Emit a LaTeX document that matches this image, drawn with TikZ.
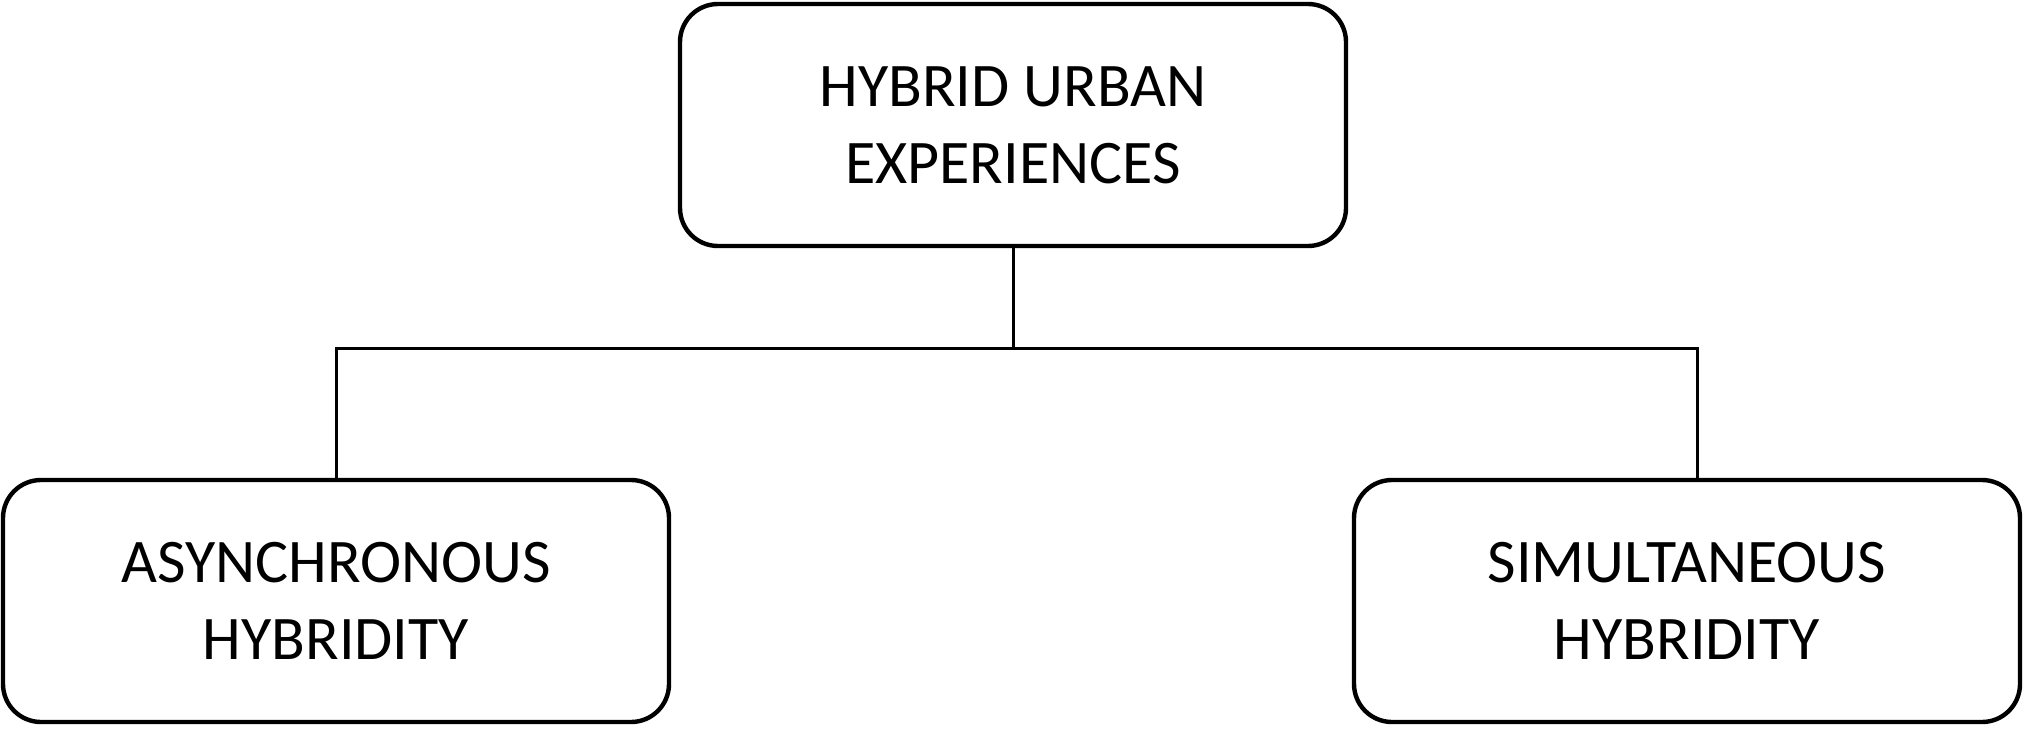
\documentclass[tikz,border=0pt]{standalone}
\usepackage{fontspec}
\setmainfont{Carlito}
\begin{document}
\begin{tikzpicture}[x=0.5pt,y=-0.5pt,
	box/.style={draw,line width=2.2pt,rounded corners=19pt,minimum width=333pt,
		minimum height=121pt,align=center,inner sep=0pt,
		font=\fontsize{31}{38.5}\selectfont},
	link/.style={line width=1.5pt}]
	\useasboundingbox (0,0) rectangle (2023,728);
	\node[box] (hue) at (1013,125) {HYBRID URBAN\\EXPERIENCES};
	\node[box] (async) at (336,601) {ASYNCHRONOUS\\HYBRIDITY};
	\node[box] (simul) at (1687,601) {SIMULTANEOUS\\HYBRIDITY};
	\coordinate (bar) at (1013,348);
	\coordinate (drop) at ([xshift=5pt]simul.north);
	\draw[link] (hue.south) -- (bar);
	\draw[link] (async.north) -- (async.north |- bar) -- (drop |- bar) -- (drop);
\end{tikzpicture}
\end{document}
